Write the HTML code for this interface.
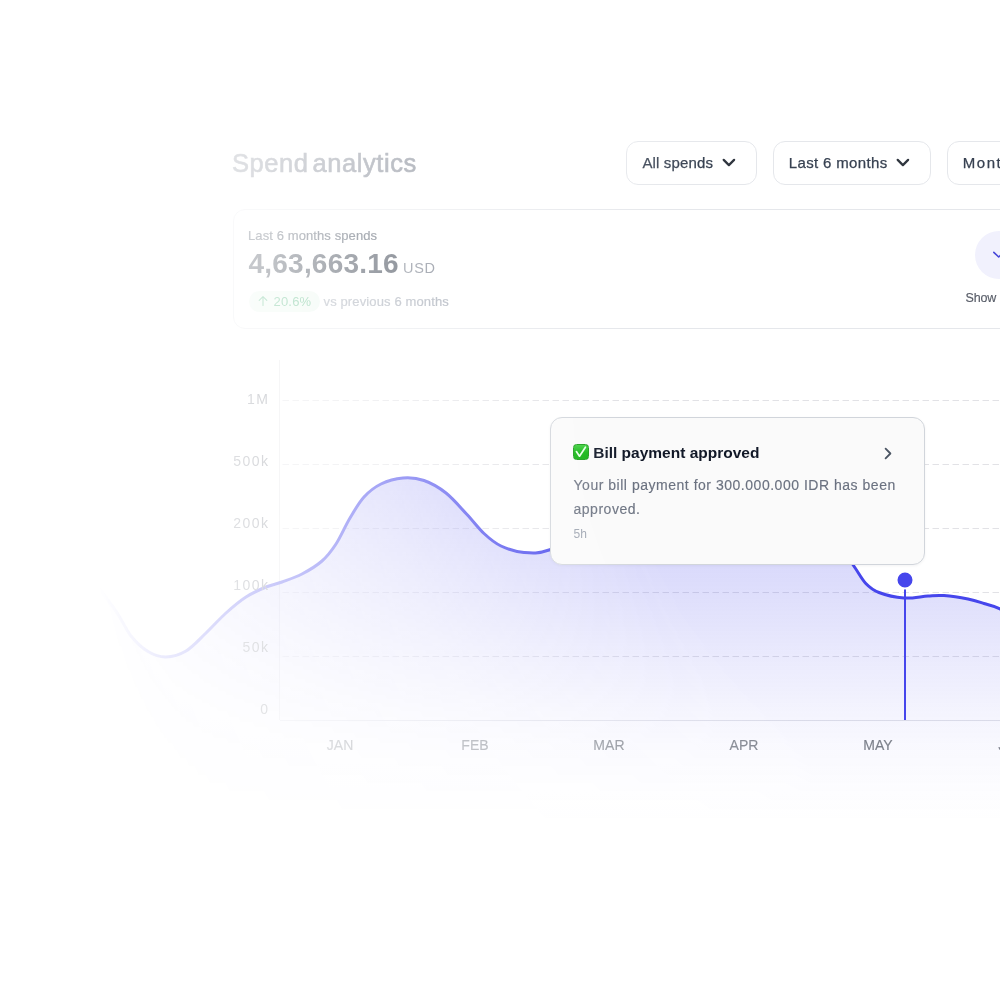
<!DOCTYPE html>
<html><head><meta charset="utf-8"><title>Spend analytics</title>
<style>
html,body{margin:0;padding:0;background:#fff;}
body{width:1000px;height:1000px;overflow:hidden;position:relative;font-family:"Liberation Sans", sans-serif;}
#wrap{position:absolute;left:0;top:0;width:1000px;height:1000px;overflow:hidden;-webkit-mask-image:radial-gradient(circle 920px at 1000px 400px, #000 41%, rgba(0,0,0,.76) 54%, rgba(0,0,0,.5) 67%, rgba(0,0,0,.29) 81%, rgba(0,0,0,.11) 95%, transparent 100%);mask-image:radial-gradient(circle 920px at 1000px 400px, #000 41%, rgba(0,0,0,.76) 54%, rgba(0,0,0,.5) 67%, rgba(0,0,0,.29) 81%, rgba(0,0,0,.11) 95%, transparent 100%);}
</style></head>
<body><div id="wrap">
<div style="position:absolute;left:232px;top:151.11px;font-size:25.5px;line-height:25.5px;font-weight:400;letter-spacing:0.55px;color:#6b7280;white-space:nowrap;-webkit-text-stroke:0.6px #6b7280;word-spacing:-3.5px;">Spend analytics</div>
<div style="position:absolute;left:626px;top:141px;width:131px;height:44px;box-sizing:border-box;border:1px solid #e5e7eb;border-radius:12px;background:#fff"></div>
<div style="position:absolute;left:642.4px;top:155.40px;font-size:15px;line-height:15px;font-weight:400;letter-spacing:0.15px;color:#374151;white-space:nowrap;-webkit-text-stroke:0.25px #374151;">All spends</div>
<svg style="position:absolute;left:722px;top:157px" width="14" height="12" viewBox="0 0 14 12"><path d="M1.7,2.9 L6.9,8.1 L12.1,2.9" fill="none" stroke="#30363f" stroke-width="2.25" stroke-linecap="round" stroke-linejoin="round"/></svg>
<div style="position:absolute;left:773px;top:141px;width:158px;height:44px;box-sizing:border-box;border:1px solid #e5e7eb;border-radius:12px;background:#fff"></div>
<div style="position:absolute;left:788.8px;top:155.40px;font-size:15px;line-height:15px;font-weight:400;letter-spacing:0.35px;color:#374151;white-space:nowrap;-webkit-text-stroke:0.25px #374151;">Last 6 months</div>
<svg style="position:absolute;left:896px;top:157px" width="14" height="12" viewBox="0 0 14 12"><path d="M1.7,2.9 L6.9,8.1 L12.1,2.9" fill="none" stroke="#30363f" stroke-width="2.25" stroke-linecap="round" stroke-linejoin="round"/></svg>
<div style="position:absolute;left:947px;top:141px;width:173px;height:44px;box-sizing:border-box;border:1px solid #e5e7eb;border-radius:12px;background:#fff"></div>
<div style="position:absolute;left:962.8px;top:155.40px;font-size:15px;line-height:15px;font-weight:400;letter-spacing:1.5px;color:#374151;white-space:nowrap;-webkit-text-stroke:0.25px #374151;">Monthly</div>
<svg style="position:absolute;left:1060px;top:157px" width="14" height="12" viewBox="0 0 14 12"><path d="M1.7,2.9 L6.9,8.1 L12.1,2.9" fill="none" stroke="#30363f" stroke-width="2.25" stroke-linecap="round" stroke-linejoin="round"/></svg>
<div style="position:absolute;left:232.5px;top:209px;width:900px;height:120px;box-sizing:border-box;border:1px solid #e5e7eb;border-radius:12px;background:#fff"></div>
<div style="position:absolute;left:248px;top:229.00px;font-size:13px;line-height:13px;font-weight:400;letter-spacing:0.1px;color:#374151;white-space:nowrap;-webkit-text-stroke:0.2px #374151;">Last 6 months spends</div>
<div style="position:absolute;left:248.6px;top:249.50px;font-size:28px;line-height:28px;font-weight:700;letter-spacing:0.2px;color:#2b3442;white-space:nowrap;">4,63,663.16</div>
<div style="position:absolute;left:403px;top:260.93px;font-size:14.5px;line-height:14.5px;font-weight:400;letter-spacing:0.7px;color:#6b7280;white-space:nowrap;">USD</div>
<div style="position:absolute;left:249px;top:291px;width:71px;height:21px;border-radius:11px;background:#ebf8ef"></div>
<svg style="position:absolute;left:257px;top:295px" width="12" height="12" viewBox="0 0 12 12"><path d="M6,10.5 V1.8 M2.2,5.4 L6,1.6 L9.8,5.4" fill="none" stroke="#4cb47a" stroke-width="1.1" stroke-linecap="round" stroke-linejoin="round"/></svg>
<div style="position:absolute;left:273.5px;top:295.00px;font-size:13px;line-height:13px;font-weight:400;letter-spacing:0.2px;color:#4cb47a;white-space:nowrap;">20.6%</div>
<div style="position:absolute;left:323.5px;top:295.00px;font-size:13px;line-height:13px;font-weight:400;letter-spacing:0.13px;color:#9ca3af;white-space:nowrap;-webkit-text-stroke:0.2px #9ca3af;">vs previous 6 months</div>
<div style="position:absolute;left:974.7px;top:231px;width:48px;height:48px;border-radius:50%;background:#f1f1fd"></div>
<svg style="position:absolute;left:990px;top:248px" width="16" height="12" viewBox="0 0 16 12"><path d="M3.8,4.3 L8.7,9 L13.6,4.3" fill="none" stroke="#4646d8" stroke-width="1.6" stroke-linecap="round" stroke-linejoin="round"/></svg>
<div style="position:absolute;left:965.4px;top:292.22px;font-size:12.5px;line-height:12.5px;font-weight:400;letter-spacing:-0.1px;color:#585d68;white-space:nowrap;-webkit-text-stroke:0.15px #585d68;">Show&nbsp; more</div>
<svg style="position:absolute;left:0;top:0" width="1000" height="1000" viewBox="0 0 1000 1000"><defs><linearGradient id="fg" gradientUnits="userSpaceOnUse" x1="0" y1="478" x2="0" y2="822"><stop offset="0.000" stop-color="#4646ec" stop-opacity="0.28"/><stop offset="0.180" stop-color="#4646ec" stop-opacity="0.225"/><stop offset="0.369" stop-color="#4646ec" stop-opacity="0.165"/><stop offset="0.529" stop-color="#4646ec" stop-opacity="0.11"/><stop offset="0.674" stop-color="#4646ec" stop-opacity="0.062"/><stop offset="0.776" stop-color="#4646ec" stop-opacity="0.036"/><stop offset="0.907" stop-color="#4646ec" stop-opacity="0.014"/><stop offset="1.000" stop-color="#4646ec" stop-opacity="0"/></linearGradient></defs><line x1="282.5" y1="400.5" x2="1000" y2="400.5" stroke="#e2e2e6" stroke-width="1" stroke-dasharray="6.5 3.5"/><line x1="282.5" y1="464.5" x2="1000" y2="464.5" stroke="#e2e2e6" stroke-width="1" stroke-dasharray="6.5 3.5"/><line x1="282.5" y1="528.5" x2="1000" y2="528.5" stroke="#e2e2e6" stroke-width="1" stroke-dasharray="6.5 3.5"/><line x1="282.5" y1="592.5" x2="1000" y2="592.5" stroke="#e2e2e6" stroke-width="1" stroke-dasharray="6.5 3.5"/><line x1="282.5" y1="656.5" x2="1000" y2="656.5" stroke="#e2e2e6" stroke-width="1" stroke-dasharray="6.5 3.5"/><line x1="279.5" y1="360" x2="279.5" y2="720" stroke="#e4e4e7" stroke-width="1"/><line x1="280" y1="720.5" x2="1000" y2="720.5" stroke="#e2e3e8" stroke-width="1"/><path d="M30.0,505.0 C36.7,512.8 56.2,535.0 70.0,552.0 C83.8,569.0 102.8,593.0 113.0,607.0 C123.2,621.0 125.2,628.6 131.0,636.0 C136.8,643.4 142.2,648.0 148.0,651.5 C153.8,655.0 159.7,657.1 166.0,657.0 C172.3,656.9 179.3,655.0 186.0,651.0 C192.7,647.0 199.3,639.3 206.0,633.0 C212.7,626.7 219.3,619.0 226.0,613.0 C232.7,607.0 239.3,601.3 246.0,597.0 C252.7,592.7 260.0,589.5 266.0,587.0 C272.0,584.5 276.0,584.2 282.0,582.0 C288.0,579.8 295.3,577.5 302.0,574.0 C308.7,570.5 316.3,566.0 322.0,561.0 C327.7,556.0 331.3,551.2 336.0,544.0 C340.7,536.8 345.3,525.8 350.0,518.0 C354.7,510.2 358.8,502.7 364.0,497.0 C369.2,491.3 374.5,487.2 381.0,484.0 C387.5,480.8 395.8,478.6 403.0,478.0 C410.2,477.4 416.8,478.0 424.0,480.5 C431.2,483.0 438.8,487.3 446.0,493.0 C453.2,498.7 460.7,507.8 467.0,514.5 C473.3,521.2 478.3,528.2 484.0,533.5 C489.7,538.8 494.3,542.8 501.0,546.0 C507.7,549.2 516.0,551.8 524.0,552.5 C532.0,553.2 538.0,553.8 549.0,550.0 C560.0,546.2 574.8,538.3 590.0,530.0 C605.2,521.7 623.3,508.3 640.0,500.0 C656.7,491.7 673.3,483.7 690.0,480.0 C706.7,476.3 723.3,475.5 740.0,478.0 C756.7,480.5 775.8,487.2 790.0,495.0 C804.2,502.8 814.5,513.4 825.0,525.0 C835.5,536.6 846.0,554.8 852.8,564.5 C859.6,574.2 861.2,578.5 865.6,583.2 C870.0,587.9 872.6,590.0 879.0,592.5 C885.4,595.0 895.8,597.4 904.0,598.0 C912.2,598.6 921.3,596.4 928.0,596.0 C934.7,595.6 937.3,595.1 944.0,595.6 C950.7,596.1 961.3,597.7 968.0,599.0 C974.7,600.3 978.7,601.8 984.0,603.5 C989.3,605.2 992.3,605.2 1000.0,609.0 C1007.7,612.8 1025.0,623.2 1030.0,626.0 L1030,880 L20,880 Z" fill="url(#fg)"/><path d="M30.0,505.0 C36.7,512.8 56.2,535.0 70.0,552.0 C83.8,569.0 102.8,593.0 113.0,607.0 C123.2,621.0 125.2,628.6 131.0,636.0 C136.8,643.4 142.2,648.0 148.0,651.5 C153.8,655.0 159.7,657.1 166.0,657.0 C172.3,656.9 179.3,655.0 186.0,651.0 C192.7,647.0 199.3,639.3 206.0,633.0 C212.7,626.7 219.3,619.0 226.0,613.0 C232.7,607.0 239.3,601.3 246.0,597.0 C252.7,592.7 260.0,589.5 266.0,587.0 C272.0,584.5 276.0,584.2 282.0,582.0 C288.0,579.8 295.3,577.5 302.0,574.0 C308.7,570.5 316.3,566.0 322.0,561.0 C327.7,556.0 331.3,551.2 336.0,544.0 C340.7,536.8 345.3,525.8 350.0,518.0 C354.7,510.2 358.8,502.7 364.0,497.0 C369.2,491.3 374.5,487.2 381.0,484.0 C387.5,480.8 395.8,478.6 403.0,478.0 C410.2,477.4 416.8,478.0 424.0,480.5 C431.2,483.0 438.8,487.3 446.0,493.0 C453.2,498.7 460.7,507.8 467.0,514.5 C473.3,521.2 478.3,528.2 484.0,533.5 C489.7,538.8 494.3,542.8 501.0,546.0 C507.7,549.2 516.0,551.8 524.0,552.5 C532.0,553.2 538.0,553.8 549.0,550.0 C560.0,546.2 574.8,538.3 590.0,530.0 C605.2,521.7 623.3,508.3 640.0,500.0 C656.7,491.7 673.3,483.7 690.0,480.0 C706.7,476.3 723.3,475.5 740.0,478.0 C756.7,480.5 775.8,487.2 790.0,495.0 C804.2,502.8 814.5,513.4 825.0,525.0 C835.5,536.6 846.0,554.8 852.8,564.5 C859.6,574.2 861.2,578.5 865.6,583.2 C870.0,587.9 872.6,590.0 879.0,592.5 C885.4,595.0 895.8,597.4 904.0,598.0 C912.2,598.6 921.3,596.4 928.0,596.0 C934.7,595.6 937.3,595.1 944.0,595.6 C950.7,596.1 961.3,597.7 968.0,599.0 C974.7,600.3 978.7,601.8 984.0,603.5 C989.3,605.2 992.3,605.2 1000.0,609.0 C1007.7,612.8 1025.0,623.2 1030.0,626.0" fill="none" stroke="#4646ec" stroke-width="3" stroke-linecap="round"/><line x1="905" y1="589" x2="905" y2="720" stroke="#4646ec" stroke-width="2"/><circle cx="905" cy="580" r="8.5" fill="#4646ec" stroke="#fff" stroke-width="2"/></svg>
<div style="position:absolute;right:730.7px;text-align:right;top:392.25px;font-size:14px;line-height:14px;font-weight:400;letter-spacing:1.4px;color:#7c808b;white-space:nowrap;">1M</div>
<div style="position:absolute;right:730.7px;text-align:right;top:454.25px;font-size:14px;line-height:14px;font-weight:400;letter-spacing:1.4px;color:#7c808b;white-space:nowrap;">500k</div>
<div style="position:absolute;right:730.7px;text-align:right;top:516.25px;font-size:14px;line-height:14px;font-weight:400;letter-spacing:1.4px;color:#7c808b;white-space:nowrap;">200k</div>
<div style="position:absolute;right:730.7px;text-align:right;top:578.25px;font-size:14px;line-height:14px;font-weight:400;letter-spacing:1.4px;color:#7c808b;white-space:nowrap;">100k</div>
<div style="position:absolute;right:730.7px;text-align:right;top:640.25px;font-size:14px;line-height:14px;font-weight:400;letter-spacing:1.4px;color:#7c808b;white-space:nowrap;">50k</div>
<div style="position:absolute;right:730.7px;text-align:right;top:702.25px;font-size:14px;line-height:14px;font-weight:400;letter-spacing:1.4px;color:#7c808b;white-space:nowrap;">0</div>
<div style="position:absolute;left:240px;width:200px;text-align:center;top:737.85px;font-size:14px;line-height:14px;font-weight:400;letter-spacing:0.1px;color:#7c808b;white-space:nowrap;-webkit-text-stroke:0.15px #7c808b;">JAN</div>
<div style="position:absolute;left:375px;width:200px;text-align:center;top:737.85px;font-size:14px;line-height:14px;font-weight:400;letter-spacing:0.1px;color:#7c808b;white-space:nowrap;-webkit-text-stroke:0.15px #7c808b;">FEB</div>
<div style="position:absolute;left:509px;width:200px;text-align:center;top:737.85px;font-size:14px;line-height:14px;font-weight:400;letter-spacing:0.1px;color:#7c808b;white-space:nowrap;-webkit-text-stroke:0.15px #7c808b;">MAR</div>
<div style="position:absolute;left:644px;width:200px;text-align:center;top:737.85px;font-size:14px;line-height:14px;font-weight:400;letter-spacing:0.1px;color:#7c808b;white-space:nowrap;-webkit-text-stroke:0.15px #7c808b;">APR</div>
<div style="position:absolute;left:778px;width:200px;text-align:center;top:737.85px;font-size:14px;line-height:14px;font-weight:400;letter-spacing:0.1px;color:#7c808b;white-space:nowrap;-webkit-text-stroke:0.15px #7c808b;">MAY</div>
<div style="position:absolute;left:912px;width:200px;text-align:center;top:737.85px;font-size:14px;line-height:14px;font-weight:400;letter-spacing:0.1px;color:#7c808b;white-space:nowrap;-webkit-text-stroke:0.15px #7c808b;">JUN</div>
<div style="position:absolute;left:549.5px;top:417px;width:375px;height:148px;box-sizing:border-box;border:1px solid #d1d5db;border-radius:12px;background:#fafafa;box-shadow:0 1px 3px rgba(16,24,40,0.05)"></div>
<div style="position:absolute;left:573px;top:444px;width:16px;height:16px;box-sizing:border-box;border:0.8px solid #169c16;border-radius:3.5px;background:linear-gradient(#3ccf3c,#10b510 55%,#0eb00e)"></div>
<svg style="position:absolute;left:573px;top:444px" width="16" height="16" viewBox="0 0 16 16"><path d="M3.4,7.6 L6.5,12.2 L12.4,3.2" fill="none" stroke="#e6ffe6" stroke-width="1.7" stroke-linecap="round" stroke-linejoin="round"/></svg>
<div style="position:absolute;left:593.2px;top:445.48px;font-size:15.5px;line-height:15.5px;font-weight:700;letter-spacing:0px;color:#111827;white-space:nowrap;">Bill payment approved</div>
<svg style="position:absolute;left:880px;top:445px" width="16" height="16" viewBox="0 0 16 16"><path d="M5.6,3.6 L10.4,8.5 L5.6,13.4" fill="none" stroke="#4b5563" stroke-width="1.8" stroke-linecap="round" stroke-linejoin="round"/></svg>
<div style="position:absolute;left:573.5px;top:478.15px;font-size:14px;line-height:14px;font-weight:400;letter-spacing:0.52px;color:#6b7280;white-space:nowrap;-webkit-text-stroke:0.15px #6b7280;">Your bill payment for 300.000.000 IDR has been</div>
<div style="position:absolute;left:573.5px;top:501.85px;font-size:14px;line-height:14px;font-weight:400;letter-spacing:0.52px;color:#6b7280;white-space:nowrap;-webkit-text-stroke:0.15px #6b7280;">approved.</div>
<div style="position:absolute;left:573.5px;top:527.84px;font-size:12px;line-height:12px;font-weight:400;letter-spacing:0px;color:#9ca3af;white-space:nowrap;">5h</div>
</div></body></html>
